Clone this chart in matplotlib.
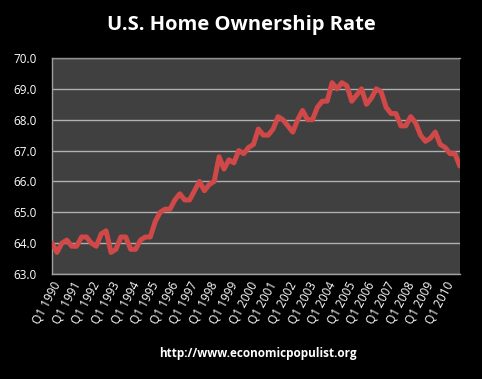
import matplotlib
matplotlib.use("Agg")
import matplotlib.pyplot as plt

years = list(range(1990, 2011))
rates = [
    64.0, 63.7, 64.0, 64.1,   # 1990
    63.9, 63.9, 64.2, 64.2,   # 1991
    64.0, 63.9, 64.3, 64.4,   # 1992
    63.7, 63.8, 64.2, 64.2,   # 1993
    63.8, 63.8, 64.1, 64.2,   # 1994
    64.2, 64.7, 65.0, 65.1,   # 1995
    65.1, 65.4, 65.6, 65.4,   # 1996
    65.4, 65.7, 66.0, 65.7,   # 1997
    65.9, 66.0, 66.8, 66.4,   # 1998
    66.7, 66.6, 67.0, 66.9,   # 1999
    67.1, 67.2, 67.7, 67.5,   # 2000
    67.5, 67.7, 68.1, 68.0,   # 2001
    67.8, 67.6, 68.0, 68.3,   # 2002
    68.0, 68.0, 68.4, 68.6,   # 2003
    68.6, 69.2, 69.0, 69.2,   # 2004
    69.1, 68.6, 68.8, 69.0,   # 2005
    68.5, 68.7, 69.0, 68.9,   # 2006
    68.4, 68.2, 68.2, 67.8,   # 2007
    67.8, 68.1, 67.9, 67.5,   # 2008
    67.3, 67.4, 67.6, 67.2,   # 2009
    67.1, 66.9, 66.9, 66.5,   # 2010
]
tick_labels = [f"Q1 {y}" for y in years]
y_ticks = [63.0, 64.0, 65.0, 66.0, 67.0, 68.0, 69.0, 70.0]

fig = plt.figure(figsize=(4.82, 3.79), dpi=100, facecolor="black")
ax = fig.add_axes([0.108, 0.277, 0.846, 0.570])
ax.set_facecolor("#404040")

x = list(range(len(rates)))
ax.plot(x, rates, color="#d04848", linewidth=3.6, solid_joinstyle="round", solid_capstyle="round", zorder=3)

ax.set_ylim(63.0, 70.0)
ax.set_xlim(0, len(rates) - 1)
ax.set_yticks(y_ticks)
ax.set_yticklabels([f"{v:.1f}" for v in y_ticks])
ax.yaxis.grid(True, color="#b0b0b0", linewidth=1.0, zorder=1)
ax.set_axisbelow(True)

ax.set_xticks([4 * i for i in range(len(years))])
ax.set_xticklabels(tick_labels, rotation=62, ha="right", rotation_mode="anchor")

ax.tick_params(axis="y", colors="white", labelsize=8.5, length=0, pad=11)
ax.tick_params(axis="x", colors="white", labelsize=8.5, length=0, pad=4)
for lab in ax.get_xticklabels() + ax.get_yticklabels():
    lab.set_fontfamily("Open Sans")

for side in ["top", "right"]:
    ax.spines[side].set_color("#909090")
    ax.spines[side].set_linewidth(1.0)
for side in ["left", "bottom"]:
    ax.spines[side].set_color("#a0a0a0")
    ax.spines[side].set_linewidth(1.0)
ax.spines["right"].set_visible(False)

fig.text(0.5, 0.935, "U.S. Home Ownership Rate", color="white", fontsize=14.5,
         fontweight="bold", ha="center", va="center", family="Open Sans")
fig.text(0.535, 0.068, "http://www.economicpopulist.org", color="white", fontsize=8.5,
         fontweight="bold", ha="center", va="center", family="Open Sans")

fig.savefig("out.png", dpi=100, facecolor="black")
